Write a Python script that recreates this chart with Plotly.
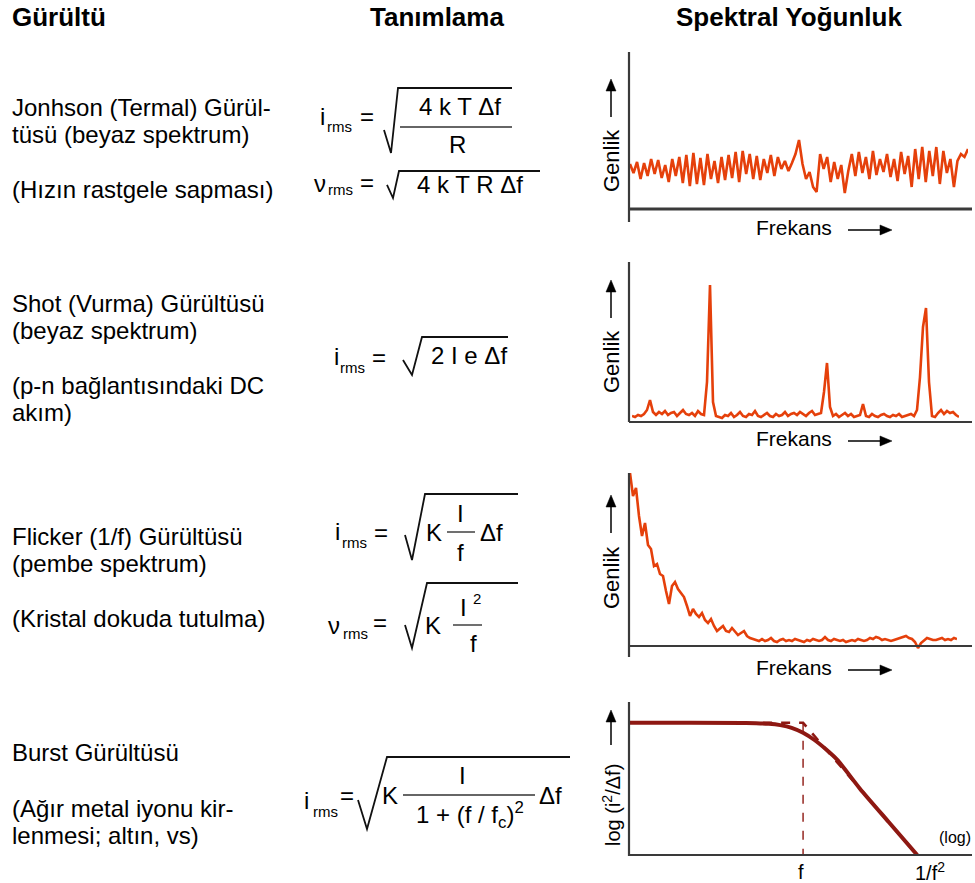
import plotly.graph_objects as go

W, H = 975, 883
FONT = "Arial, 'Liberation Sans', sans-serif"
NOISE = "#e5400b"
BURST = "#8e1812"
AXIS = "#3a3a3a"

# ---------------- data ----------------
headers = ["Gürültü", "Tanımlama", "Spektral Yoğunluk"]

johnson_text = ["Jonhson (Termal) Gürül-", "tüsü (beyaz spektrum)", "(Hızın rastgele sapması)"]
shot_text = ["Shot (Vurma) Gürültüsü", "(beyaz spektrum)", "(p-n bağlantısındaki DC", "akım)"]
flicker_text = ["Flicker (1/f) Gürültüsü", "(pembe spektrum)", "(Kristal dokuda tutulma)"]
burst_text = ["Burst Gürültüsü", "(Ağır metal iyonu kir-", "lenmesi; altın, vs)"]

# Johnson (thermal) noise: flat, random amplitude across frequency
johnson_amp = [45, 36, 47, 30, 46, 33, 50, 35, 49, 31, 44, 27, 50, 33, 52, 26, 54, 23,
               56, 25, 51, 24, 55, 30, 48, 26, 52, 29, 54, 31, 57, 27, 58, 35, 55, 30,
               53, 29, 50, 36, 54, 33, 52, 40, 48, 38, 46, 55, 69, 45, 30, 37, 22, 17,
               55, 40, 52, 27, 47, 30, 44, 16, 38, 55, 33, 57, 36, 52, 30, 58, 34, 50,
               37, 55, 32, 50, 28, 57, 35, 53, 22, 60, 30, 62, 27, 58, 33, 62, 25, 58,
               36, 50, 22, 48, 55, 52, 60]

# Shot noise: low floor with discrete spikes
shot_amp = [6, 5, 7, 6, 8, 12, 22, 10, 7, 10,
            8, 11, 7, 9, 10, 6, 9, 12, 8, 7,
            9, 6, 11, 8, 7, 40, 137, 20, 6, 5,
            4, 7, 6, 9, 5, 7, 10, 6, 5, 8,
            7, 11, 6, 5, 7, 9, 6, 5, 8, 6,
            7, 10, 6, 8, 9, 7, 10, 8, 6, 9,
            11, 7, 8, 9, 30, 59, 15, 6, 8, 5,
            7, 9, 6, 8, 5, 6, 7, 18, 6, 5,
            8, 6, 5, 7, 8, 6, 5, 7, 6, 8,
            5, 6, 7, 8, 6, 12, 45, 95, 114, 40,
            6, 5, 9, 12, 8, 11, 9, 10, 7, 5]

# Flicker noise: 1/f decay into the floor
flicker_amp = [173, 150, 158, 130, 110, 123, 101, 97, 80, 82,
               72, 70, 55, 42, 60, 64, 57, 53, 49, 40,
               30, 37, 32, 29, 33, 26, 23, 27, 20, 15,
               18, 20, 15, 14, 18, 14, 11, 13, 15, 10,
               8, 7,
               6, 5, 7, 5, 6, 8, 5, 4, 6, 7,
               5, 6, 5, 7, 6, 5, 4, 6, 5, 7,
               6, 5, 6, 9, 6, 5, 7, 6, 5, 6,
               4, 5, 6, 5, 7, 6, 5, 6, 8, 7,
               9, 8, 6, 7, 6, 5, 6, 7, 8, 9,
               10, 8, 7, 4, -2, 3, 6, 8, 7, 6,
               6, 7, 8, 6, 7, 6, 8, 7]

# Burst noise: log-log spectrum, corner at log f = 0
burst_logf = [-3.05, -1.0, -0.6, -0.4, -0.2, 0.0, 0.2, 0.4, 0.6, 1.0, 1.5, 2.0]
burst_logS = [0.0, -0.004, -0.03, -0.07, -0.15, -0.30, -0.52, -0.80, -1.12, -2.00, -3.00, -4.00]
asym_logf = [-0.7, 0.0, 2.0]
asym_logS = [0.0, 0.0, -4.0]
corner_logf = [0.0, 0.0]
corner_logS = [0.0, -4.0]


def X(px):
    return px / W


def Y(py):
    return 1 - py / H


fig = go.Figure()

# ---------------- spectral panels ----------------
panels = [
    dict(x0=630, x1=968, yb=209, yt=52, rng=[0, 157]),
    dict(x0=632, x1=959, yb=422, yt=262, rng=[0, 160]),
    dict(x0=630, x1=957, yb=657, yt=473, rng=[-11, 173]),
]
series = [johnson_amp, shot_amp, flicker_amp]
for k, (p, s) in enumerate(zip(panels, series), start=1):
    fig.add_trace(go.Scatter(y=s, mode="lines",
                             line=dict(color=NOISE, width=2.6),
                             xaxis=f"x{k}", yaxis=f"y{k}", hoverinfo="skip"))
    fig.layout[f"xaxis{k}"] = dict(domain=[X(p["x0"]), X(p["x1"])], range=[0, len(s) - 1],
                                   visible=False, anchor=f"y{k}")
    fig.layout[f"yaxis{k}"] = dict(domain=[Y(p["yb"]), Y(p["yt"])], range=p["rng"],
                                   visible=False, anchor=f"x{k}")

# burst panel
fig.add_trace(go.Scatter(x=asym_logf, y=asym_logS, mode="lines",
                         line=dict(color=BURST, width=2.6, dash="dash"),
                         xaxis="x4", yaxis="y4", hoverinfo="skip"))
fig.add_trace(go.Scatter(x=corner_logf, y=corner_logS, mode="lines",
                         line=dict(color=BURST, width=1.4, dash="dash"),
                         xaxis="x4", yaxis="y4", hoverinfo="skip"))
fig.add_trace(go.Scatter(x=burst_logf, y=burst_logS, mode="lines",
                         line=dict(color=BURST, width=4, shape="spline", smoothing=0.6),
                         xaxis="x4", yaxis="y4", hoverinfo="skip"))
fig.layout["xaxis4"] = dict(domain=[X(629), X(972)], range=[-3.05, 2.96],
                            visible=False, anchor="y4")
fig.layout["yaxis4"] = dict(domain=[Y(855), Y(702)], range=[-4.0, 0.63],
                            visible=False, anchor="x4")

shapes = []


def line(x0, y0, x1, y1, w=2.0, color=AXIS):
    shapes.append(dict(type="line", xref="paper", yref="paper",
                       x0=X(x0), y0=Y(y0), x1=X(x1), y1=Y(y1),
                       line=dict(color=color, width=w)))


def path(pts, w=1.8, color="#111", fill=None, close=False):
    s = "M " + " L ".join(f"{X(a):.5f},{Y(b):.5f}" for a, b in pts) + (" Z" if close else "")
    d = dict(type="path", xref="paper", yref="paper", path=s,
             line=dict(color=color, width=w))
    if fill:
        d["fillcolor"] = fill
    shapes.append(d)


def arrow(hx, hy, tx, ty, length=12, half=5):
    # shaft plus filled triangular head, tip at (hx, hy)
    dx, dy = hx - tx, hy - ty
    n = (dx * dx + dy * dy) ** 0.5
    ux, uy = dx / n, dy / n
    bx, by = hx - ux * length, hy - uy * length
    line(tx, ty, bx, by, 1.5, "#000")
    path([(hx, hy), (bx - uy * half, by + ux * half), (bx + uy * half, by - ux * half)],
         w=0.5, color="#000", fill="#000", close=True)


# panel axes
line(629, 52, 629, 222, 2.2)
line(629, 209, 972, 209, 2.8)
line(629, 262, 629, 422, 2.2)
line(629, 422, 972, 422, 2.2)
line(629, 473, 629, 657, 2.2)
line(629, 646, 972, 646, 2.2)
line(629, 702, 629, 856, 2.2)
line(629, 855, 972, 855, 2.2)

ann = []


def text(s, x, y, size=24, anchor="center", bold=False, angle=0, color="#000"):
    ann.append(dict(text=f"<b>{s}</b>" if bold else s, x=X(x), y=Y(y), xref="paper", yref="paper",
                    xanchor=anchor, yanchor="middle", showarrow=False, textangle=angle,
                    font=dict(family=FONT, size=size, color=color)))


# headers
text(headers[0], 10, 17, 26, "left", True)
text(headers[1], 437, 17, 26, "center", True)
text(headers[2], 789, 17, 26, "center", True)

# left column
for s, y in zip(johnson_text, [108, 135, 190]):
    text(s, 10, y, 24, "left")
for s, y in zip(shot_text, [303, 330, 385, 412]):
    text(s, 10, y, 24, "left")
for s, y in zip(flicker_text, [536, 563, 618]):
    text(s, 10, y, 24, "left")
for s, y in zip(burst_text, [752, 808, 835]):
    text(s, 10, y, 24, "left")

# axis titles and arrows
for gy, (ah, at), fy, (fa0, fa1) in [
    (161, (79, 117), 227, (848, 892)),
    (362, (280, 318), 438, (848, 892)),
    (578, (495, 533), 667, (848, 892)),
]:
    text("Genlik", 611, gy, 22, angle=-90)
    arrow(611, ah, 611, at)
    text("Frekans", 794, fy, 21)
    arrow(fa1, fy + 3, fa0, fy + 3)

text("log (i<sup>2</sup>/Δf)", 611, 805, 20, angle=-90)
arrow(611, 710, 611, 745)
text("(log)", 955, 837, 16)
text("f", 801, 872, 20)
text("1/f<sup>2</sup>", 930, 871, 20)

# ---------------- formulas ----------------
# Johnson: i_rms
text("i", 322, 116)
text("rms", 339, 126, 15)
text("=", 367, 116)
path([(384, 130), (391, 153), (398, 88), (512, 88)])
text("4 k T Δf", 460, 106)
line(400, 127, 512, 127, 1.4, "#333")
text("R", 457, 144)

# Johnson: v_rms
text("ν", 320, 183)
text("rms", 340, 190, 15)
text("=", 367, 182)
path([(387, 185), (393, 198), (399, 171), (540, 171)])
text("4 k T R Δf", 470, 185)

# Shot
text("i", 336, 356)
text("rms", 352, 367, 15)
text("=", 379, 357)
path([(403, 360), (412, 375), (422, 337), (508, 337)])
text("2 I e Δf", 469, 355)

# Flicker: i_rms
text("i", 337, 531)
text("rms", 354, 542, 15)
text("=", 381, 532)
path([(405, 535), (412, 560), (425, 494), (518, 494)])
text("K", 434, 532)
text("I", 460, 513)
line(447, 532, 475, 532, 1.4, "#333")
text("f", 460, 552)
text("Δf", 492, 532)

# Flicker: v_rms
text("ν", 334, 625)
text("rms", 355, 633, 15)
text("=", 380, 622)
path([(405, 625), (412, 648), (427, 583), (518, 583)])
text("K", 433, 625)
text("I", 463, 607)
text("2", 477, 598, 15)
line(453, 625, 482, 625, 1.4, "#333")
text("f", 473, 643)

# Burst
text("i", 306, 800)
text("rms", 325, 811, 15)
text("=", 347, 795)
path([(358, 800), (367, 829), (387, 757), (570, 757)])
text("K", 390, 795)
text("I", 462, 775)
line(403, 795, 535, 795, 1.4, "#333")
text("1 + (f / f<sub>c</sub>)<sup>2</sup>", 470, 815)
text("Δf", 550, 795)

fig.update_layout(width=W, height=H, margin=dict(l=0, r=0, t=0, b=0),
                  paper_bgcolor="white", plot_bgcolor="rgba(0,0,0,0)",
                  showlegend=False, shapes=shapes, annotations=ann)

fig.write_html("out.html")
